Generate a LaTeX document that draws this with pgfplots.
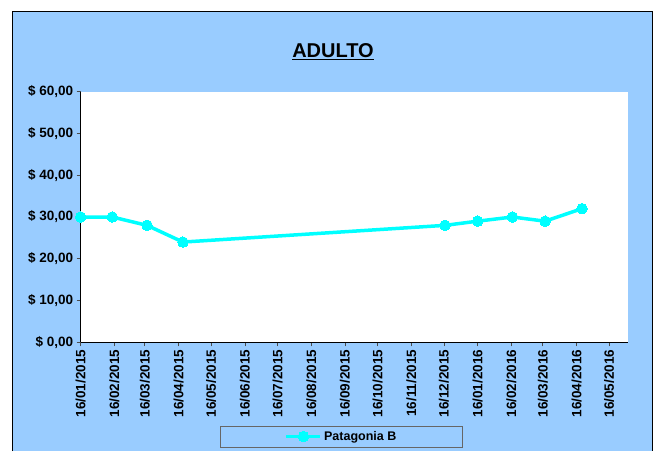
\documentclass[border=0pt]{standalone}
\usepackage{fontspec}
\setmainfont{Liberation Sans}
\usepackage{pgfplots}
\pgfplotsset{compat=1.18}
\definecolor{chartbg}{HTML}{99CCFF}
\definecolor{seriescyan}{HTML}{00FFFF}

\begin{document}
\begin{tikzpicture}
\useasboundingbox (0pt,0pt) rectangle (654pt,451pt);
\fill[white] (0pt,0pt) rectangle (654pt,451pt);
\fill[chartbg] (12.5pt,0pt) rectangle (652pt,439.3pt);
\draw[black, line width=1pt] (12.5pt,0pt) -- (12.5pt,439.3pt) -- (652pt,439.3pt) -- (652pt,0pt);
\node[font=\bfseries\fontsize{20}{20}\selectfont] at (333pt,399pt) {\underline{ADULTO}};

\begin{axis}[
    at={(80.7pt,108.7pt)}, anchor=south west,
    scale only axis,
    width=547pt, height=250.6pt,
    xmin=0, xmax=503,
    ymin=0, ymax=60,
    axis background/.style={fill=white},
    axis x line*=bottom, axis y line*=left,
    axis line style={black, line width=1.2pt, -},
    tick align=outside,
    major tick length=4pt,
    tick style={black!70, line width=0.8pt},
    clip=false,
    xtick={0,31,59,90,120,151,181,212,243,273,304,334,365,396,425,456,486},
    xticklabels={16/01/2015,16/02/2015,16/03/2015,16/04/2015,16/05/2015,16/06/2015,16/07/2015,16/08/2015,16/09/2015,16/10/2015,16/11/2015,16/12/2015,16/01/2016,16/02/2016,16/03/2016,16/04/2016,16/05/2016},
    xticklabel style={rotate=90, anchor=east, font=\bfseries\fontsize{13.5}{13.5}\selectfont},
    ytick={0,10,20,30,40,50,60},
    yticklabel={\$ \pgfmathprintnumber{\tick}},
    yticklabel style={font=\bfseries\fontsize{13.5}{13.5}\selectfont},
    /pgf/number format/.cd, fixed, fixed zerofill, precision=2, use comma, assume math mode=true,
    /pgfplots/.cd,
    legend style={at={(260.8pt,-94.2pt)}, anchor=center, draw=black!60, fill=chartbg,
        font=\bfseries\fontsize{12.5}{12.5}\selectfont, inner xsep=64pt, inner ysep=3pt},
    legend image code/.code={\draw[mark repeat=2, mark phase=2, #1] plot coordinates {(0pt,0pt) (17pt,0pt) (34pt,0pt)};},
]
\addplot[seriescyan, line width=3.5pt, mark=*, mark size=5.3pt, mark options={fill=seriescyan, draw=seriescyan, line width=0pt}]
coordinates {
    (0,30) (29,30) (61,28) (94,24)
    (335,28) (365,29) (397,30) (427,29) (461,32)
};
\addlegendentry{Patagonia B}
\end{axis}
\end{tikzpicture}
\end{document}
